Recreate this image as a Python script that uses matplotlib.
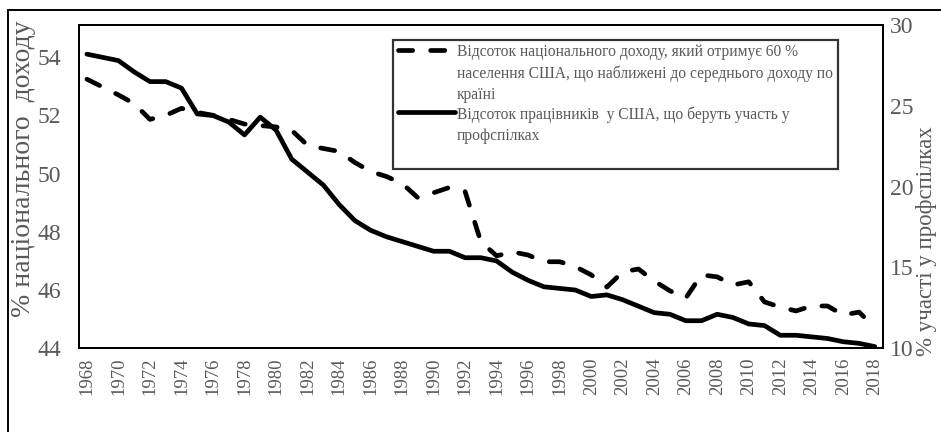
import matplotlib
matplotlib.use("Agg")
import matplotlib.pyplot as plt
from matplotlib.patches import Rectangle

# values
years = list(range(1968, 2019))

income_share = [  # % національного доходу (left axis, dashed)
    53.24, 52.97, 52.70, 52.40, 51.86, 52.00, 52.24, 52.10, 52.00, 51.86,
    51.70, 51.65, 51.60, 51.48, 50.97, 50.86, 50.76, 50.38, 50.07, 49.90,
    49.66, 49.17, 49.34, 49.52, 49.38, 47.66, 47.17, 47.31, 47.20, 46.97,
    46.97, 46.80, 46.52, 46.10, 46.62, 46.72, 46.31, 45.97, 45.72, 46.52,
    46.45, 46.17, 46.28, 45.59, 45.41, 45.28, 45.45, 45.45, 45.14, 45.24,
    44.72,
]

union_share = [  # % участі у профспілках (right axis, solid)
    28.2, 28.0, 27.8, 27.1, 26.5, 26.5, 26.1, 24.5, 24.4, 24.0,
    23.2, 24.3, 23.5, 21.7, 20.9, 20.1, 18.9, 17.9, 17.3, 16.9,
    16.6, 16.3, 16.0, 16.0, 15.6, 15.6, 15.4, 14.7, 14.2, 13.8,
    13.7, 13.6, 13.2, 13.3, 13.0, 12.6, 12.2, 12.1, 11.7, 11.7,
    12.1, 11.9, 11.5, 11.4, 10.8, 10.8, 10.7, 10.6, 10.4, 10.3,
    10.1,
]

label_income = ("Відсоток національного доходу, який отримує 60 %\n"
                "населення США, що наближені до середнього доходу по\n"
                "країні")
label_union = "Відсоток працівників  у США, що беруть участь у\nпрофспілках\n"

GREY = "#595959"
plt.rcParams["font.family"] = ["Liberation Serif", "DejaVu Serif"]

fig = plt.figure(figsize=(9.41, 4.32), dpi=100)
ax = fig.add_axes([0.084, 0.194, 0.854, 0.748])
ax2 = ax.twinx()

l1, = ax.plot(years, income_share, color="black", lw=3.4,
              dash_capstyle="round", label=label_income)
l1.set_dashes((3, 3.8))
l2, = ax2.plot(years, union_share, color="black", lw=3.4,
               solid_capstyle="round", label=label_union)

ax.set_xlim(1967.5, 2018.5)
ax.set_ylim(44, 55.1)
ax2.set_ylim(10, 30)
ax.set_yticks([44, 46, 48, 50, 52, 54])
ax2.set_yticks([10, 15, 20, 25, 30])
ax.set_xticks(years[::2])

ax.tick_params(axis="x", length=0, pad=7, labelsize=13.5, labelcolor=GREY,
               labelrotation=90)
ax.tick_params(axis="y", length=0, pad=13, labelsize=17, labelcolor=GREY)
ax2.tick_params(axis="y", length=0, pad=5, labelsize=17, labelcolor=GREY)

for a in (ax, ax2):
    for s in a.spines.values():
        s.set_linewidth(1.4)
        s.set_color("black")

ax.set_ylabel("% національного  доходу", fontsize=20, color=GREY)
ax.yaxis.set_label_coords(-0.053, 0.557)
ax2.set_ylabel("% участі у профспілках", fontsize=16.5, color=GREY,
               rotation=90)
ax2.yaxis.set_label_coords(1.042, 0.33)

leg = ax2.legend(handles=[l1, l2], loc="upper left",
                 bbox_to_anchor=(0.391, 0.955), fontsize=11.2,
                 frameon=True, fancybox=False, edgecolor="black",
                 handlelength=3.7, handletextpad=0.1, labelspacing=0.25,
                 borderpad=0.3, borderaxespad=0)
leg.get_frame().set_linewidth(1.6)
for t in leg.get_texts():
    t.set_color(GREY)
    t.set_linespacing(1.4)
# put each legend line next to the first row of its label
for col in leg._legend_handle_box.get_children():
    for item in col.get_children():
        item.align = "top"

# outer frame around the whole picture
fig.patches.append(Rectangle((8 / 941, -0.1), 1.2, 0.1 + 1 - 10 / 432,
                             transform=fig.transFigure, fill=False,
                             edgecolor="black", lw=1.4))

fig.savefig("out.png", dpi=100)
